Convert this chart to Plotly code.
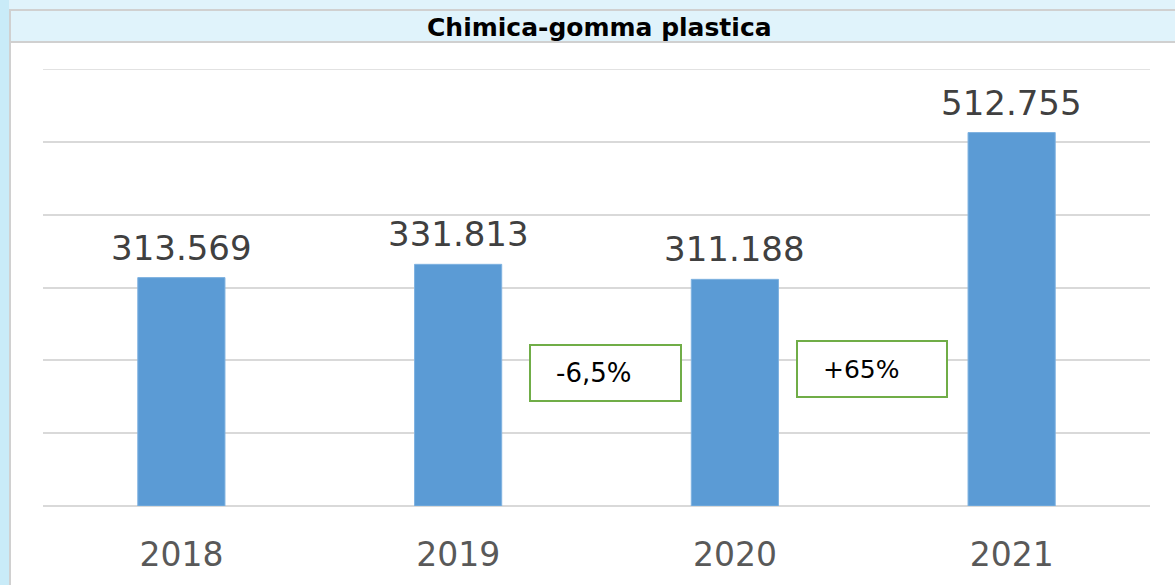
import plotly.graph_objects as go

W, H = 1175, 585

years = ["2018", "2019", "2020", "2021"]
values = [313569, 331813, 311188, 512755]
value_labels = ["313.569", "331.813", "311.188", "512.755"]
change_labels = ["-6,5%", "+65%"]


def px_x(p):
    return p / W


def px_y(p):
    return 1 - p / H


fig = go.Figure()

fig.add_trace(
    go.Bar(
        x=years,
        y=values,
        marker=dict(color="#5b9bd5", line=dict(color="#7fb2e0", width=1)),
        width=0.315,
        hoverinfo="skip",
    )
)

shapes = [
    # white chart area
    dict(type="rect", xref="paper", yref="paper", x0=px_x(10), x1=1.01,
         y0=-0.01, y1=px_y(42), fillcolor="white", line_width=0, layer="below"),
    # left strip
    dict(type="rect", xref="paper", yref="paper", x0=-0.01, x1=px_x(9),
         y0=-0.01, y1=1.01, fillcolor="#c9ebf8", line_width=0, layer="below"),
    # title bar
    dict(type="rect", xref="paper", yref="paper", x0=px_x(10), x1=1.02,
         y0=px_y(42), y1=px_y(10), fillcolor="#e0f3fb",
         line=dict(color="#d0d0d0", width=2), layer="below"),
    # left border
    dict(type="line", xref="paper", yref="paper", x0=px_x(10), x1=px_x(10),
         y0=-0.01, y1=px_y(10), line=dict(color="#d0d0d0", width=2), layer="below"),
    # top gridline (at the range end)
    dict(type="line", xref="paper", yref="y", x0=px_x(43), x1=px_x(1150),
         y0=600000, y1=600000, line=dict(color="#d9d9d9", width=1.5), layer="below"),
    # change boxes
    dict(type="rect", xref="paper", yref="paper", x0=px_x(530), x1=px_x(681),
         y0=px_y(401), y1=px_y(345), fillcolor="white",
         line=dict(color="#70ad47", width=2)),
    dict(type="rect", xref="paper", yref="paper", x0=px_x(797), x1=px_x(947),
         y0=px_y(397), y1=px_y(341), fillcolor="white",
         line=dict(color="#70ad47", width=2)),
]

annotations = [
    dict(text="<b>Chimica-gomma plastica</b>", xref="paper", yref="paper",
         x=px_x(599), y=px_y(27), yanchor="middle", showarrow=False,
         font=dict(family="DejaVu Sans", size=25, color="black")),
    dict(text=change_labels[0], xref="paper", yref="paper", x=px_x(554),
         y=px_y(373), xanchor="left", yanchor="middle", showarrow=False,
         font=dict(family="DejaVu Sans", size=26, color="black")),
    dict(text=change_labels[1], xref="paper", yref="paper", x=px_x(821),
         y=px_y(369), xanchor="left", yanchor="middle", showarrow=False,
         font=dict(family="DejaVu Sans", size=25, color="black")),
]

# value labels above the bars (x given as category index)
for i, (v, lab) in enumerate(zip(values, value_labels)):
    annotations.append(
        dict(text=lab, x=i, y=v, xref="x", yref="y", yanchor="bottom",
             yshift=8, showarrow=False,
             font=dict(family="DejaVu Sans", size=34, color="#404040"))
    )

fig.update_layout(
    width=W,
    height=H,
    margin=dict(l=0, r=0, t=0, b=0),
    paper_bgcolor="#e0f3fb",
    plot_bgcolor="rgba(0,0,0,0)",
    showlegend=False,
    shapes=shapes,
    annotations=annotations,
    xaxis=dict(
        type="category",
        range=[-0.5, len(years) - 0.5],
        domain=[px_x(43), px_x(1150)],
        showgrid=False,
        showline=False,
        ticks="",
        tickfont=dict(family="DejaVu Sans", size=33, color="#595959"),
        ticklabelstandoff=26,
        automargin=False,
    ),
    yaxis=dict(
        domain=[px_y(506), px_y(69)],
        range=[0, 600000],
        dtick=100000,
        showticklabels=False,
        gridcolor="#d9d9d9",
        gridwidth=1.5,
        zeroline=True,
        zerolinecolor="#d9d9d9",
        zerolinewidth=2,
        automargin=False,
    ),
)

# drop the default 8px page margin so the figure fills the window
fig.write_html(
    "out.html",
    config={"displayModeBar": False},
    post_script="document.body.style.margin='0';",
)
